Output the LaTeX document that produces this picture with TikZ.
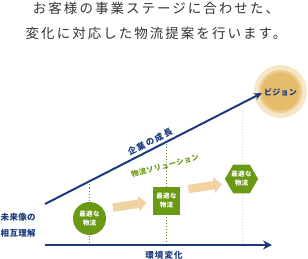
\documentclass[tikz,border=0pt]{standalone}
\usepackage{fontspec}
\setmainfont{Noto Sans CJK JP}
\usetikzlibrary{arrows.meta,shapes.geometric}
\definecolor{navy}{HTML}{1D3A7C}
\definecolor{leaf}{HTML}{6A9A14}
\definecolor{olive}{HTML}{6B8A1E}
\definecolor{palegreen}{HTML}{D6DEB4}
\definecolor{beige}{HTML}{F0D3A0}
\definecolor{gold}{HTML}{E5BB6C}
\definecolor{goldmid}{HTML}{EDCB8E}
\definecolor{goldpale}{HTML}{F5E6C6}
\definecolor{titlegray}{HTML}{333333}
\begin{document}
\begin{tikzpicture}[x=1pt,y=-1pt,
  titletext/.style={inner sep=0pt,anchor=base,text=titlegray,font=\fontsize{13.5}{16}\selectfont\addfontfeatures{LetterSpace=15}},
  navytext/.style={inner sep=0pt,text=navy,font=\bfseries\fontsize{8.5}{16}\selectfont\addfontfeatures{LetterSpace=12}},
  greentext/.style={inner sep=0pt,text=leaf,font=\bfseries\fontsize{7.5}{9}\selectfont\addfontfeatures{LetterSpace=4}},
  navyline/.style={draw=navy,line width=2pt},
  dotline/.style={draw=olive,line width=1pt,dash pattern=on 1pt off 2pt},
  paledot/.style={draw=palegreen,line width=1pt,dash pattern=on 1pt off 2pt},
  stepnode/.style={fill=leaf,text=white,inner sep=0pt,align=center,
    font=\bfseries\fontsize{6.5}{9}\selectfont\addfontfeatures{LetterSpace=6}},
  bigarrow/.style={fill=beige}
]
\useasboundingbox (0,0) rectangle (308,259);

% title
\node[titletext] (t1) at (156,14) {お客様の事業ステージに合わせた、};
\node[titletext] (t2) at (156,39) {変化に対応した物流提案を行います。};

% coordinates
\coordinate (d0) at (45,204);
\coordinate (vtip) at (262,93);
\coordinate (a0) at (45,245);
\coordinate (a1) at (272,245);
\coordinate (p1top) at (89.5,181.5);
\coordinate (p1bot) at (89.5,245);
\coordinate (p2top) at (166.5,141.5);
\coordinate (p2bot) at (166.5,245);
\coordinate (p3top) at (242.5,105);
\coordinate (p3bot) at (242.5,245);

% vision circle
\node[circle,fill=goldpale,minimum size=53pt,inner sep=0pt] (vout) at (280.5,91.5) {};
\node[circle,fill=goldmid,minimum size=43pt,inner sep=0pt] (vmid) at (vout.center) {};
\node[circle,fill=gold,minimum size=38pt,inner sep=0pt] (vin) at (vout.center) {};
\node[inner sep=0pt,text=navy,font=\bfseries\fontsize{8}{9}\selectfont\addfontfeatures{LetterSpace=3}] (vis) at (280.5,92) {ビジョン};

% dotted guides
\draw[dotline] (p1top) -- (p1bot);
\draw[dotline] (p2top) -- (p2bot);
\draw[paledot] (p3top) -- (p3bot);

% axes
\draw[navyline,-{Stealth[length=8pt,width=7pt]}] (d0) -- (vtip);
\draw[navyline,line width=2.5pt,-{Stealth[length=9pt,width=9pt]}] (a0) -- (a1);

% labels
\node[navytext,rotate=27,font=\bfseries\fontsize{8.5}{16}\selectfont\addfontfeatures{LetterSpace=18}] (grow) at (150,142) {企業の成長};
\node[greentext,rotate=15] (sol) at (165,166) {物流ソリューション};
\node[navytext] (env) at (164,255) {環境変化};
\node[navytext,align=left,anchor=west,font=\bfseries\fontsize{8.5}{16}\selectfont\addfontfeatures{LetterSpace=4}] (fut) at (0.5,225) {未来像の\\相互理解};

% beige arrows
\fill[bigarrow,shift={(129.7,205.1)},rotate=8.5]
  (-17,-4.2) -- (9,-4.2) -- (9,-7.8) -- (17,0) -- (9,7.8) -- (9,4.2) -- (-17,4.2) -- cycle;
\fill[bigarrow,shift={(205.2,186.5)},rotate=8.5]
  (-17,-4.2) -- (9,-4.2) -- (9,-7.8) -- (17,0) -- (9,7.8) -- (9,4.2) -- (-17,4.2) -- cycle;

% step nodes
\node[stepnode,circle,minimum size=33pt] (s1) at (89.5,218.5) {最適な\\物流};
\node[stepnode,rectangle,minimum width=27pt,minimum height=28pt] (s2) at (166.5,201) {最適な\\物流};
\node[stepnode,regular polygon,regular polygon sides=6,minimum size=33pt] (s3) at (241.5,179) {最適な\\物流};
\end{tikzpicture}
\end{document}
